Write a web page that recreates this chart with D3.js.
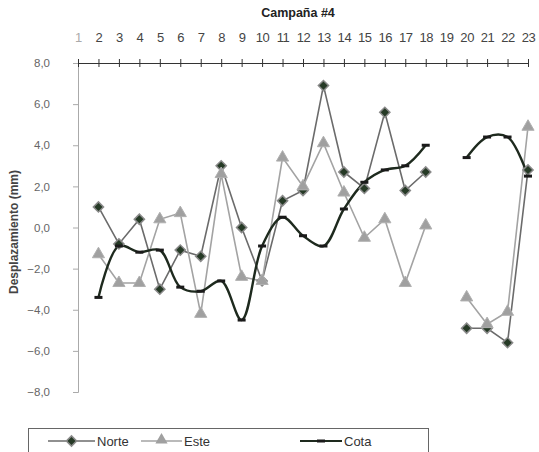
<!DOCTYPE html>
<html><head><meta charset="utf-8">
<script src="https://cdn.jsdelivr.net/npm/d3@7"></script>
<style>body{margin:0;background:#fff}svg{display:block}</style>
</head><body>
<svg id="c" width="539" height="452"></svg>
<script>
const categories = ["1","2","3","4","5","6","7","8","9","10","11","12","13","14","15","16","17","18","19","20","21","22","23"];
const norte = [null, 1.0, -0.8, 0.4, -3.0, -1.1, -1.4, 3.0, 0.0, -2.6, 1.3, 1.8, 6.9, 2.7, 1.9, 5.6, 1.8, 2.7, null, -4.9, -4.9, -5.6, 2.8];
const este  = [null, -1.3, -2.7, -2.7, 0.4, 0.7, -4.2, 2.6, -2.4, -2.6, 3.4, 2.0, 4.1, 1.7, -0.5, 0.4, -2.7, 0.1, null, -3.4, -4.7, -4.1, 4.9];
const cota  = [null, -3.4, -0.9, -1.2, -1.1, -2.9, -3.1, -2.6, -4.5, -0.9, 0.5, -0.4, -0.9, 0.9, 2.2, 2.8, 3.0, 4.0, null, 3.4, 4.4, 4.4, 2.5];
const yTicks = [8, 6, 4, 2, 0, -2, -4, -6, -8];
const title = "Campaña #4";
const yTitle = "Desplazamiento (mm)";
const legendNames = ["Norte", "Este", "Cota"];

const svg = d3.select("#c");
const font = "'Liberation Sans', Arial, sans-serif";

const x = d3.scalePoint().domain(categories).range([78, 528]);
const y = d3.scaleLinear().domain([-8, 8]).range([392, 63]);

// Title
svg.append("text").attr("x", 298).attr("y", 17).attr("text-anchor", "middle")
  .attr("font-family", font).attr("font-weight", "bold").attr("font-size", 12.5)
  .attr("fill", "#222").text(title);

// Y axis (left)
const yAxis = d3.axisLeft(y).tickValues(yTicks).tickSize(5).tickPadding(23)
  .tickFormat(d => d3.format(".1f")(d).replace(".", ","));
const gy = svg.append("g").attr("transform", "translate(78,0)").call(yAxis);
gy.select(".domain").attr("stroke", "#aaa");
gy.selectAll(".tick line").attr("stroke", "#aaa");
gy.selectAll(".tick text").attr("font-family", font).attr("font-size", 11.5).attr("fill", "#666");

// X axis at top (crosses at 8.0)
const xAxis = d3.axisTop(x).tickSizeInner(4).tickSizeOuter(0).tickPadding(17);
const gx = svg.append("g").attr("transform", `translate(0,${y(8)})`).call(xAxis);
gx.select(".domain").attr("stroke", "#333").attr("stroke-width", 1.2);
gx.selectAll(".tick line").attr("stroke", "#333").attr("y1", 4).attr("y2", -4);
gx.selectAll(".tick text").attr("font-family", font).attr("font-size", 13).attr("fill", "#444")
  .attr("letter-spacing", -0.4);
gx.selectAll(".tick").filter(d => d === "1").select("text").attr("fill", "#aaa");

// Y title
svg.append("text").attr("transform", "translate(18,232) rotate(-90)").attr("text-anchor", "middle")
  .attr("font-family", font).attr("font-weight", "bold").attr("font-size", 12)
  .attr("fill", "#444").text(yTitle);

const pts = arr => arr.map((v, i) => ({c: categories[i], v}));
const line = d3.line().defined(d => d.v !== null).x(d => x(d.c)).y(d => y(d.v));
const smooth = d3.line().defined(d => d.v !== null).x(d => x(d.c)).y(d => y(d.v)).curve(d3.curveCatmullRom.alpha(0.5));

const diamond = d3.symbol().type(d3.symbolSquare).size(52)();
const tri = d3.symbol().type(d3.symbolTriangle).size(64)();

// Norte
svg.append("path").datum(pts(norte)).attr("d", line).attr("fill", "none")
  .attr("stroke", "#6b6b6b").attr("stroke-width", 1.6);
// Este
svg.append("path").datum(pts(este)).attr("d", line).attr("fill", "none")
  .attr("stroke", "#a3a3a3").attr("stroke-width", 1.6);
// Cota
svg.append("path").datum(pts(cota)).attr("d", smooth).attr("fill", "none")
  .attr("stroke", "#1e2a1e").attr("stroke-width", 2.4);

// markers
svg.append("g").selectAll("path").data(pts(norte).filter(d => d.v !== null)).join("path")
  .attr("d", diamond).attr("transform", d => `translate(${x(d.c)},${y(d.v)}) rotate(45)`)
  .attr("fill", "#263a26").attr("stroke", "#8a8a8a").attr("stroke-width", 1.5);
svg.append("g").selectAll("path").data(pts(este).filter(d => d.v !== null)).join("path")
  .attr("d", tri).attr("transform", d => `translate(${x(d.c)},${y(d.v)})`)
  .attr("fill", "#a0a0a0").attr("stroke", "#b0b0b0").attr("stroke-width", 1);
svg.append("g").selectAll("rect").data(pts(cota).filter(d => d.v !== null)).join("rect")
  .attr("x", d => x(d.c) - 4).attr("y", d => y(d.v) - 1.5).attr("width", 8).attr("height", 3)
  .attr("fill", "#1a1a1a");

// Legend
const lg = svg.append("g");
lg.append("rect").attr("x", 28.5).attr("y", 428.5).attr("width", 400).attr("height", 40)
  .attr("fill", "none").attr("stroke", "#666").attr("stroke-width", 1);
const items = [
  {x0: 48, x1: 95, tx: 97, stroke: "#6b6b6b", w: 1.6},
  {x0: 141, x1: 182, tx: 184, stroke: "#a3a3a3", w: 1.6},
  {x0: 300, x1: 342, tx: 344, stroke: "#1e2a1e", w: 2.2}
];
items.forEach((it, i) => {
  const cy = 441;
  lg.append("line").attr("x1", it.x0).attr("x2", it.x1).attr("y1", cy).attr("y2", cy)
    .attr("stroke", it.stroke).attr("stroke-width", it.w);
  const mx = (it.x0 + it.x1) / 2;
  if (i === 0) lg.append("path").attr("d", diamond).attr("transform", `translate(${mx},${cy}) rotate(45)`)
    .attr("fill", "#263a26").attr("stroke", "#8a8a8a").attr("stroke-width", 1.5);
  if (i === 1) lg.append("path").attr("d", tri).attr("transform", `translate(${mx},${cy - 1})`)
    .attr("fill", "#a0a0a0");
  if (i === 2) lg.append("rect").attr("x", mx - 4).attr("y", cy - 1.5).attr("width", 8).attr("height", 3).attr("fill", "#1a1a1a");
  lg.append("text").attr("x", it.tx).attr("y", cy + 4.5).attr("font-family", font).attr("font-size", 13)
    .attr("fill", "#333").text(legendNames[i]);
});
</script>
</body></html>
